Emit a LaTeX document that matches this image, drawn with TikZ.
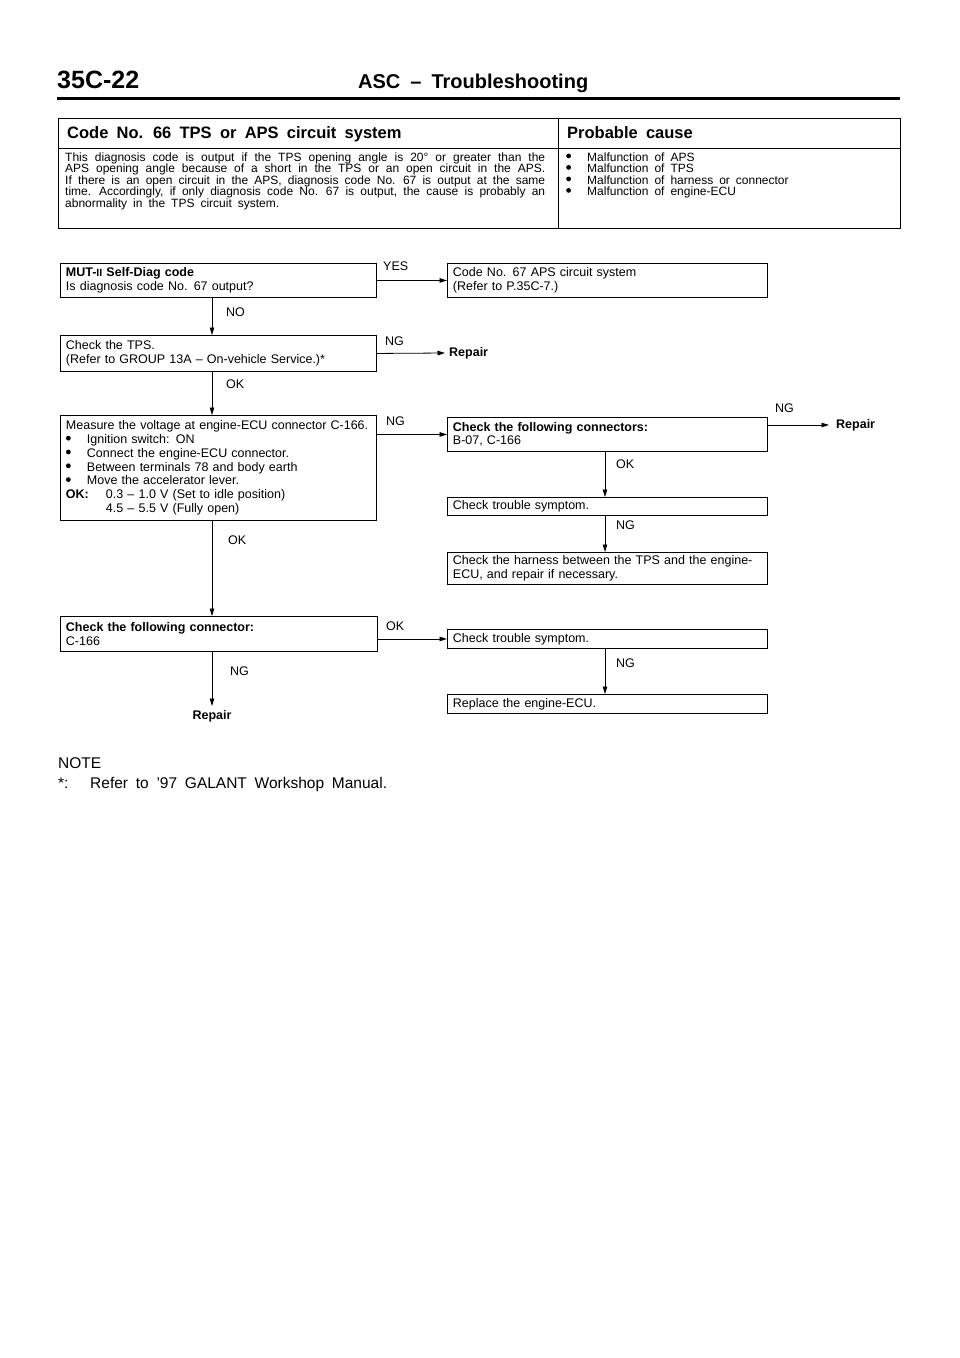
\documentclass[tikz,border=0pt]{standalone}
\usepackage{fontspec}
\setmainfont{Liberation Sans}[WordSpace={1.8}]
\usetikzlibrary{arrows.meta}
\newcommand\bxf{\fontsize{12.5}{13.6}\selectfont}
\newcommand\msf{\fontsize{12.5}{13.8}\selectfont}
\newcommand\dsf{\fontsize{12}{11.8}\selectfont}
\newcommand\lbf{\fontsize{12.5}{12.5}\selectfont}
\newcommand\bdot{\raisebox{3pt}{\tikz\fill (0,0) circle (2.4pt);}}
\newcommand\bul{\makebox[21pt][l]{\bdot}}
\begin{document}
\begin{tikzpicture}[x=1pt,y=-1pt,
  box/.style={draw, line width=0.9pt, anchor=north west, inner xsep=5.5pt, inner ysep=0pt, align=left, font=\bxf},
  lbl/.style={anchor=west, inner sep=0pt, font=\lbf},
  rep/.style={anchor=west, inner sep=0pt, font=\lbf\bfseries},
  txt/.style={anchor=base west, inner sep=0pt},
  arr/.style={-{Triangle[length=7.5pt,width=4.5pt]}, line width=0.8pt}]
\fill[white] (0,0) rectangle (960,1358);
\useasboundingbox (0,0) rectangle (960,1358);

% page header
\node[txt, font=\fontsize{25}{25}\selectfont\bfseries] (pg) at (57,88) {35C-22};
\node[txt, font=\fontsize{20}{20}\selectfont\bfseries] (ttl) at (358,88) {ASC – Troubleshooting};
\draw[line width=3pt] (57,98.5) -- (900,98.5);

% table
\draw[line width=0.9pt] (58,118) rectangle (900,228);
\draw[line width=0.9pt] (58,148) -- (900,148);
\draw[line width=0.9pt] (558,118) -- (558,228);
\node[txt, font=\fontsize{16.5}{16.5}\selectfont\bfseries] (th1) at (67,138) {Code No. 66 TPS or APS circuit system};
\node[txt, font=\fontsize{16.5}{16.5}\selectfont\bfseries] (th2) at (567,138) {Probable cause};
\begin{scope}[every node/.style={txt, font=\dsf}]
\node (d1) at (65,161.3) {\makebox[480pt][s]{This diagnosis code is output if the TPS opening angle is 20° or greater than the}};
\node (d2) at (65,172.8) {\makebox[480pt][s]{APS opening angle because of a short in the TPS or an open circuit in the APS.}};
\node (d3) at (65,184.3) {\makebox[480pt][s]{If there is an open circuit in the APS, diagnosis code No. 67 is output at the same}};
\node (d4) at (65,195.8) {\makebox[480pt][s]{time. Accordingly, if only diagnosis code No. 67 is output, the cause is probably an}};
\node (d5) at (65,207.3) {abnormality in the TPS circuit system.};
\node (c1) at (566,161.3) {\bul Malfunction of APS};
\node (c2) at (566,172.8) {\bul Malfunction of TPS};
\node (c3) at (566,184.3) {\bul Malfunction of harness or connector};
\node (c4) at (566,195.8) {\bul Malfunction of engine-ECU};
\end{scope}

% flow boxes
\node[box, text width=305pt, minimum width=316pt, minimum height=34pt] (b1) at (60,263)
  {\textbf{MUT-{\fontsize{10.5}{10}\selectfont II} Self-Diag code}\\Is diagnosis code No. 67 output?};
\node[box, text width=309pt, minimum width=320pt, minimum height=34pt] (b2) at (447,263)
  {Code No. 67 APS circuit system\\(Refer to P.35C-7.)};
\node[box, text width=305pt, minimum width=316pt, minimum height=36pt] (b3) at (60,335)
  {Check the TPS.\\(Refer to GROUP 13A – On-vehicle Service.)*};
\node[box, font=\msf, text width=305pt, minimum width=316pt, minimum height=105pt] (b4) at (60,415)
  {Measure the voltage at engine-ECU connector C-166.\\
   \bul Ignition switch: ON\\
   \bul Connect the engine-ECU connector.\\
   \bul Between terminals 78 and body earth\\
   \bul Move the accelerator lever.\\
   \makebox[40pt][l]{\textbf{OK:}}0.3 – 1.0 V (Set to idle position)\\
   \hspace*{40pt}4.5 – 5.5 V (Fully open)};
\node[box, text width=309pt, minimum width=320pt, minimum height=34pt] (b5) at (447,417)
  {\textbf{Check the following connectors:}\\B-07, C-166};
\node[box, text width=309pt, minimum width=320pt, minimum height=18pt] (b6) at (447,497)
  {Check trouble symptom.};
\node[box, text width=309pt, minimum width=320pt, minimum height=32pt] (b7) at (447,552)
  {Check the harness between the TPS and the engine-\\ECU, and repair if necessary.};
\node[box, text width=306pt, minimum width=317pt, minimum height=35pt] (b8) at (60,616)
  {\textbf{Check the following connector:}\\C-166};
\node[box, text width=309pt, minimum width=320pt, minimum height=19pt] (b9) at (447,629)
  {Check trouble symptom.};
\node[box, text width=309pt, minimum width=320pt, minimum height=19pt] (b10) at (447,694)
  {Replace the engine-ECU.};

% repair nodes
\node[rep, inner xsep=4pt] (rep1) at (445,353) {Repair};
\node[rep, inner xsep=7pt] (rep2) at (829,425) {Repair};
\node[anchor=north, inner xsep=0pt, inner ysep=4pt, font=\lbf\bfseries] (rep3) at (212,706) {Repair};

% column lines
\coordinate (lx) at (212,0);
\coordinate (rx) at (605,0);

% connectors
\draw[arr] (b1.east) -- (b2.west);
\draw[arr] (b1.south -| lx) -- (b3.north -| lx);
\draw[arr] (b3.east) -- (rep1.west);
\draw[arr] (b3.south -| lx) -- (b4.north -| lx);
\draw[arr] (b5.west -| b4.east) -- (b5.west);
\draw[arr] (rep2.west -| b5.east) -- (rep2.west);
\draw[arr] (b5.south -| rx) -- (b6.north -| rx);
\draw[arr] (b6.south -| rx) -- (b7.north -| rx);
\draw[arr] (b4.south -| lx) -- (b8.north -| lx);
\draw[arr] (b9.west -| b8.east) -- (b9.west);
\draw[arr] (b8.south -| lx) -- (rep3.north);
\draw[arr] (b9.south -| rx) -- (b10.north -| rx);

% labels
\node[lbl] (lyes) at (383,266) {YES};
\node[lbl] (lno) at (226,312) {NO};
\node[lbl] (lng1) at (385,341) {NG};
\node[lbl] (lok1) at (226,384) {OK};
\node[lbl] (lng2) at (386,421) {NG};
\node[lbl] (lng3) at (775,408) {NG};
\node[lbl] (lok2) at (616,464) {OK};
\node[lbl] (lng4) at (616,525) {NG};
\node[lbl] (lok3) at (228,540) {OK};
\node[lbl] (lok4) at (386,626) {OK};
\node[lbl] (lng5) at (230,671) {NG};
\node[lbl] (lng6) at (616,663) {NG};

% note
\node[txt, font=\fontsize{15.5}{15.5}\selectfont] (note) at (58,768.6) {NOTE};
\node[txt, font=\fontsize{15.5}{15.5}\selectfont] (ast) at (58,788) {*:};
\node[txt, font=\fontsize{15.5}{15.5}\selectfont] (ref) at (90,788) {Refer to ’97 GALANT Workshop Manual.};
\end{tikzpicture}
\end{document}
